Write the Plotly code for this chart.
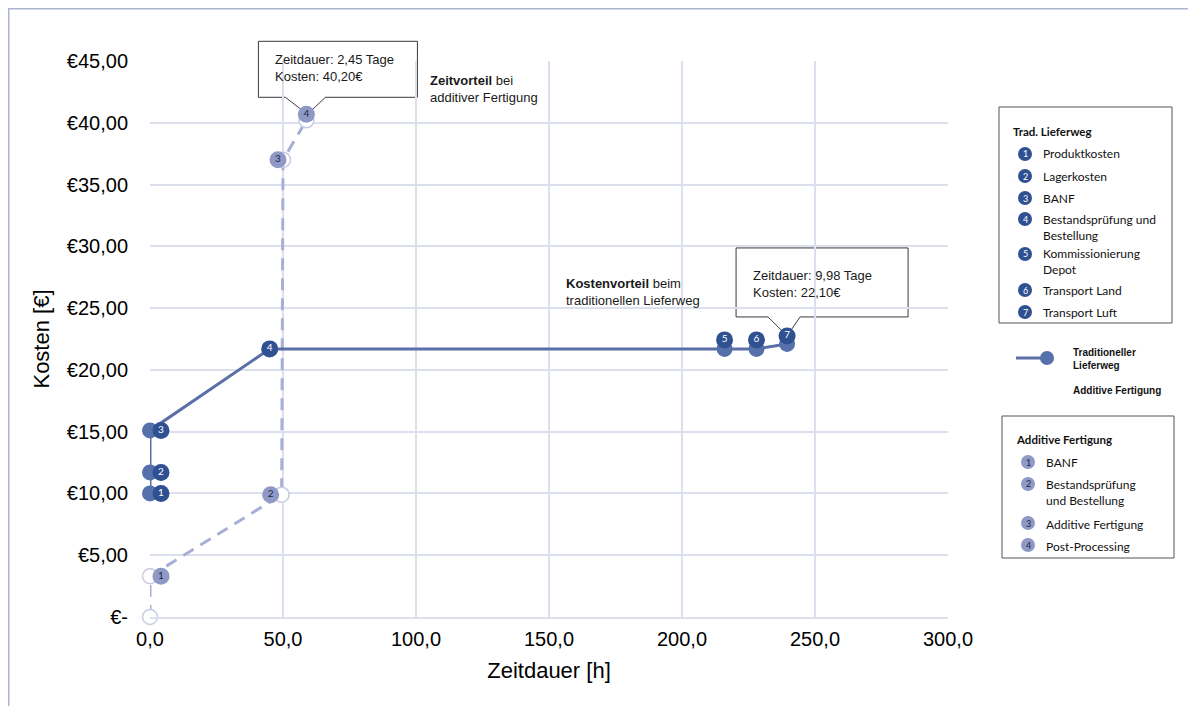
import plotly.graph_objects as go

# ---------------- data ----------------
trad_hours = [0.0, 0.0, 0.0, 45.0, 216.0, 228.0, 239.5]
trad_cost = [10.0, 11.7, 15.1, 21.7, 21.7, 21.7, 22.1]
trad_labels = ["1", "2", "3", "4", "5", "6", "7"]

add_hours = [0.0, 0.0, 49.5, 50.0, 58.8]
add_cost = [0.0, 3.3, 9.9, 37.0, 40.2]
add_labels = ["", "1", "2", "3", "4"]

trad_legend = ["Produktkosten", "Lagerkosten", "BANF", "Bestandsprüfung und<br>Bestellung",
               "Kommissionierung<br>Depot", "Transport Land", "Transport Luft"]
add_legend = ["BANF", "Bestandsprüfung<br>und Bestellung", "Additive Fertigung", "Post-Processing"]

x_ticks = [0, 50, 100, 150, 200, 250, 300]
x_ticktext = ["0,0", "50,0", "100,0", "150,0", "200,0", "250,0", "300,0"]
y_ticks = [0, 5, 10, 15, 20, 25, 30, 35, 40, 45]
y_ticktext = ["€-", "€5,00", "€10,00", "€15,00", "€20,00", "€25,00", "€30,00", "€35,00", "€40,00", "€45,00"]

# ---------------- layout constants ----------------
BODY = 8                      # browser default body margin
W, H = 1196 - BODY, 706 - BODY
PL, PT = 150, 61              # plot area top-left on the page
PW, PH = 798, 556
L, T = PL - BODY, PT - BODY
R, B = W - L - PW, H - T - PH
X_RANGE = [0, 300]
Y_RANGE = [0, 45]
ux = PW / (X_RANGE[1] - X_RANGE[0])  # px per hour
uy = PH / (Y_RANGE[1] - Y_RANGE[0])  # px per euro

def px2paper_x(p):
    return (p - PL) / PW

def px2paper_y(p):
    return (PT + PH - p) / PH

def ydata2paper(v):
    return (v - Y_RANGE[0]) / (Y_RANGE[1] - Y_RANGE[0])

# badge pixel offsets (style)
trad_badge_dx = [11, 11, 11, 0, 0, 0, 0]
trad_badge_dy = [0, 0, 0, 0, 9, 9, 8]
add_badge_dx = [0, 11, -11, -5, 0]
add_badge_dy = [0, 0, 0, 0, 6]

TRAD_LINE = "#5a6ea8"
TRAD_MARK = "#5670ab"
TRAD_BADGE = "#2f5191"
ADD_LINE = "#a7afd6"
ADD_BADGE = "#8f99c6"
GRID = "#dcdfee"
FONT = "Liberation Sans, Arial, sans-serif"
LFONT = "Lato, Open Sans, sans-serif"

fig = go.Figure()

# additive dashed path
fig.add_trace(go.Scatter(
    x=add_hours, y=add_cost, mode="lines+markers",
    line=dict(color=ADD_LINE, width=3, dash="12px,8px"),
    marker=dict(size=15, color="white", line=dict(color="#c6cbe4", width=1.5)),
    cliponaxis=False, showlegend=False, hoverinfo="skip"))

# traditional path
fig.add_trace(go.Scatter(
    x=trad_hours, y=trad_cost, mode="lines+markers",
    line=dict(color=TRAD_LINE, width=3),
    marker=dict(size=16, color=TRAD_MARK),
    cliponaxis=False, showlegend=False, hoverinfo="skip"))

# additive badges
ab = [i for i, t in enumerate(add_labels) if t]
fig.add_trace(go.Scatter(
    x=[add_hours[i] + add_badge_dx[i] / ux for i in ab],
    y=[add_cost[i] + add_badge_dy[i] / uy for i in ab],
    text=[add_labels[i] for i in ab], mode="markers+text",
    textposition="middle center",
    textfont=dict(family=LFONT, size=10, color="#1d2540"),
    marker=dict(size=17, color=ADD_BADGE),
    cliponaxis=False, showlegend=False, hoverinfo="skip"))

# traditional badges
fig.add_trace(go.Scatter(
    x=[h + dx / ux for h, dx in zip(trad_hours, trad_badge_dx)],
    y=[c + dy / uy for c, dy in zip(trad_cost, trad_badge_dy)],
    text=trad_labels, mode="markers+text", textposition="middle center",
    textfont=dict(family=LFONT, size=10, color="white"),
    marker=dict(size=17, color=TRAD_BADGE),
    cliponaxis=False, showlegend=False, hoverinfo="skip"))

shapes = []
annotations = []

# outer frame (top and left edges visible)
shapes.append(dict(type="rect", xref="paper", yref="paper",
                   x0=px2paper_x(BODY + 0.75), x1=px2paper_x(1400), y0=px2paper_y(900),
                   y1=px2paper_y(BODY + 0.75),
                   line=dict(color="#a9b5d2", width=1.5), fillcolor="rgba(0,0,0,0)", layer="below"))

# callouts anchored to data points (pixel offsets, positive = up)
def callout(xd, yd, left, right, top, bottom, pl, pr, tip, text, tx, ty):
    path = (f"M {left},{top} L {right},{top} L {right},{bottom} L {pr},{bottom} "
            f"L {tip[0]},{tip[1]} L {pl},{bottom} L {left},{bottom} Z")
    shapes.append(dict(type="path", xref="x", yref="paper", xsizemode="pixel", ysizemode="pixel",
                       xanchor=xd, yanchor=ydata2paper(yd), path=path, fillcolor="white",
                       line=dict(color="#3a3a3a", width=1), layer="between"))
    annotations.append(dict(x=xd, y=yd, xref="x", yref="y", text=text, showarrow=False,
                            xanchor="left", yanchor="middle", align="left", xshift=tx, yshift=ty,
                            font=dict(family=FONT, size=13, color="#1a1a1a")))

callout(add_hours[4], add_cost[4], -48, 111, 79, 23, -21, 19, (1, 6),
        "Zeitdauer: 2,45 Tage<br>Kosten: 40,20€", -33, 52)
callout(trad_hours[6], trad_cost[6], -51, 121, 96, 27, -19, 13, (0, 8),
        "Zeitdauer: 9,98 Tage<br>Kosten: 22,10€", -36, 60)

# text notes
annotations.append(dict(xref="paper", yref="paper", x=px2paper_x(428), y=px2paper_y(89),
                        text="<b>Zeitvorteil</b> bei<br>additiver Fertigung", showarrow=False,
                        xanchor="left", yanchor="middle", align="left",
                        font=dict(family=FONT, size=13, color="#1a1a1a")))
shapes.append(dict(type="rect", xref="paper", yref="paper",
                   x0=px2paper_x(548), x1=px2paper_x(735), y0=px2paper_y(325), y1=px2paper_y(258),
                   fillcolor="white", line=dict(width=0), layer="between"))
annotations.append(dict(xref="paper", yref="paper", x=px2paper_x(564), y=px2paper_y(292),
                        text="<b>Kostenvorteil</b> beim<br>traditionellen Lieferweg", showarrow=False,
                        xanchor="left", yanchor="middle", align="left",
                        font=dict(family=FONT, size=13, color="#1a1a1a")))

# ---------------- custom legend ----------------
def box(x0, y0, x1, y1):
    shapes.append(dict(type="rect", xref="paper", yref="paper",
                       x0=px2paper_x(x0), x1=px2paper_x(x1), y0=px2paper_y(y1), y1=px2paper_y(y0),
                       line=dict(color="#555555", width=1), fillcolor="white"))

def badge(cx, cy, r, color, num, numcolor):
    shapes.append(dict(type="circle", xref="paper", yref="paper",
                       x0=px2paper_x(cx - r), x1=px2paper_x(cx + r),
                       y0=px2paper_y(cy + r), y1=px2paper_y(cy - r),
                       fillcolor=color, line=dict(width=0)))
    annotations.append(dict(xref="paper", yref="paper", x=px2paper_x(cx), y=px2paper_y(cy),
                            text=num, showarrow=False, xanchor="center", yanchor="middle",
                            font=dict(family=LFONT, size=9, color=numcolor)))

def ltext(x, y, text, bold=False, size=11.5, family=LFONT):
    annotations.append(dict(xref="paper", yref="paper", x=px2paper_x(x), y=px2paper_y(y),
                            text=f"<b>{text}</b>" if bold else text, showarrow=False,
                            xanchor="left", yanchor="middle", align="left",
                            font=dict(family=family, size=size, color="#111111")))

box(999, 107, 1172, 323)
ltext(1011, 132, "Trad. Lieferweg", bold=True, size=11.5)
trad_leg_y = [154, 176, 198, 227, 262, 290, 312]
trad_badge_y = [154, 176, 198, 219, 254, 290, 312]
for i, (lbl, ty, by) in enumerate(zip(trad_legend, trad_leg_y, trad_badge_y)):
    badge(1025, by, 7, TRAD_BADGE, trad_labels[i], "white")
    ltext(1041, ty, lbl, size=12)

# line sample
shapes.append(dict(type="line", xref="paper", yref="paper",
                   x0=px2paper_x(1016), x1=px2paper_x(1045), y0=px2paper_y(358), y1=px2paper_y(358),
                   line=dict(color=TRAD_LINE, width=3)))
shapes.append(dict(type="circle", xref="paper", yref="paper",
                   x0=px2paper_x(1040), x1=px2paper_x(1054), y0=px2paper_y(365), y1=px2paper_y(351),
                   fillcolor=TRAD_MARK, line=dict(width=0)))
ltext(1071, 359, "Traditioneller<br>Lieferweg", bold=True, size=10, family=FONT)
ltext(1071, 390, "Additive Fertigung", bold=True, size=10, family=FONT)

box(1002, 416, 1174, 558)
ltext(1014, 439, "Additive Fertigung", bold=True, size=11.5)
add_leg_y = [462, 492, 524, 546]
add_badge_y = [462, 484, 523, 545]
for i, (lbl, ty, by) in enumerate(zip(add_legend, add_leg_y, add_badge_y)):
    badge(1028, by, 7, ADD_BADGE, str(i + 1), "#1d2540")
    ltext(1044, ty, lbl, size=12)

fig.update_layout(
    width=W, height=H,
    margin=dict(l=L, r=R, t=T, b=B, autoexpand=False),
    paper_bgcolor="white", plot_bgcolor="white",
    font=dict(family=FONT, color="black"),
    shapes=shapes, annotations=annotations, showlegend=False,
    xaxis=dict(range=X_RANGE, tickvals=x_ticks, ticktext=x_ticktext, showgrid=True,
               gridcolor=GRID, gridwidth=1.5, zeroline=False, showline=True,
               linecolor=GRID, linewidth=1.5, ticks="", tickfont=dict(size=20),
               ticklabelstandoff=3, automargin=False,
               title=dict(text="Zeitdauer [h]", font=dict(size=22), standoff=14)),
    yaxis=dict(range=Y_RANGE, tickvals=y_ticks, ticktext=y_ticktext, showgrid=True,
               gridcolor=GRID, gridwidth=1.5, zeroline=False, showline=False,
               ticks="", tickfont=dict(size=20), ticklabelstandoff=21, automargin=False,
               title=dict(text="Kosten [€]", font=dict(size=22), standoff=11)),
)

fig.write_html("out.html")
